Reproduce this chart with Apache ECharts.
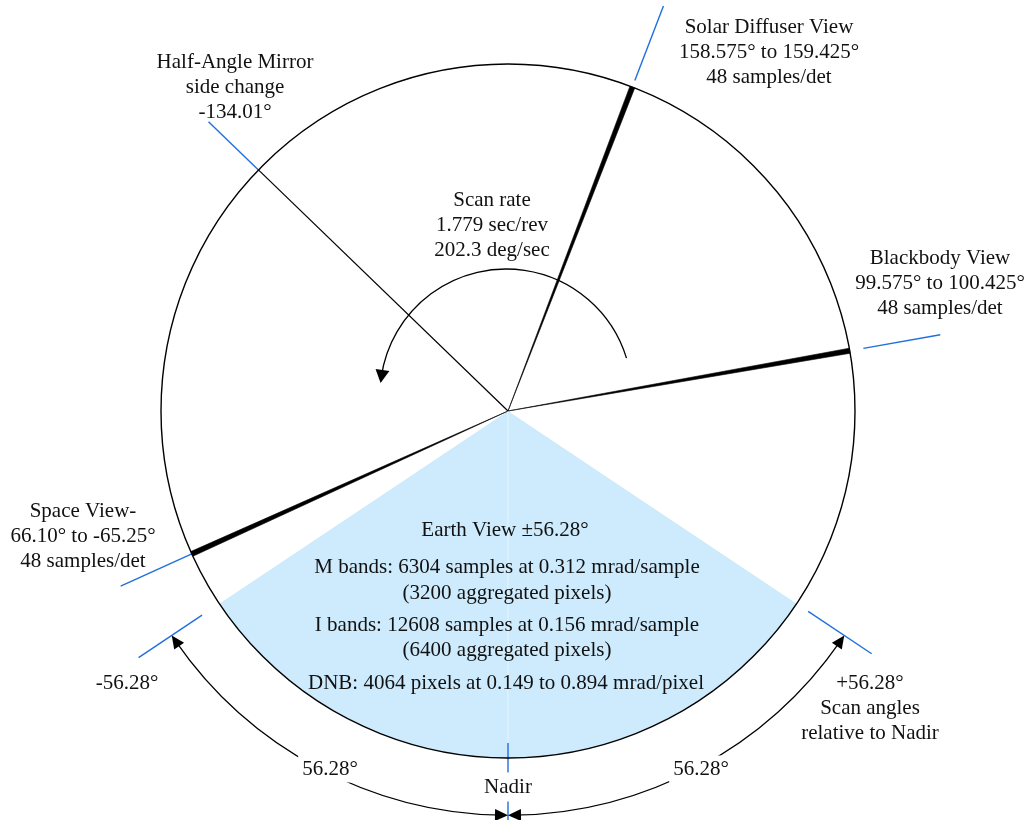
<!DOCTYPE html>
<html>
<head>
<meta charset="utf-8">
<title>Scan geometry</title>
<script src="https://cdn.jsdelivr.net/npm/echarts@6.0.0/dist/echarts.min.js"></script>
<style>
  html, body { margin: 0; padding: 0; background: #fff; }
  #chart { width: 1029px; height: 820px; }
</style>
</head>
<body>
<div id="chart"></div>
<script>
  // scan angles in degrees, measured from nadir
  const viewNames = ['Earth View', 'Space View', 'Blackbody View', 'Solar Diffuser View'];
  const viewFrom = [-56.28, -66.10, 99.575, 158.575];
  const viewTo = [56.28, -65.25, 100.425, 159.425];
  const samplesPerDet = [null, 48, 48, 48];
  const mirrorAngle = -134.01;
  const nadirAngle = 0;
  const scanLimits = [-56.28, 56.28];
  const scanPeriod = 1.779;   // sec/rev
  const scanRate = 202.3;     // deg/sec
  const scanDirection = [107, 264.5];   // arrow drawn around the centre
  const bandLines = [
    'M bands: 6304 samples at 0.312 mrad/sample',
    '(3200 aggregated pixels)',
    'I bands: 12608 samples at 0.156 mrad/sample',
    '(6400 aggregated pixels)',
    'DNB: 4064 pixels at 0.149 to 0.894 mrad/pixel'
  ];

  function mid(i) {
    return (viewFrom[i] + viewTo[i]) / 2;
  }
  // blue marker lines outside the circle
  const markerAngles = [mirrorAngle, mid(3), mid(2), mid(1), scanLimits[0], scanLimits[1], nadirAngle];

  // layout only (radius 1 = scan circle)
  const markerReach = [[1.0, 1.2], [1.02, 1.25], [1.04, 1.265], [1.0, 1.225], [1.06, 1.28], [1.04, 1.26], [0.957, 1.2]];
  const spanRadius = 1.165;
  const FONT = '21px "Liberation Serif", "Times New Roman", serif';
  const BLUE = '#1f6fe0';
  const INK = '#111';

  const chart = echarts.init(document.getElementById('chart'));

  function wrap(a) {
    return ((a + 180) % 360 + 360) % 360 - 180;
  }
  function pt(api, r, a) {
    return api.coord([r, wrap(a)]);
  }
  function screenAngle(api, a) {
    const c = api.coord([0, 0]);
    const p = pt(api, 1, a);
    return Math.atan2(p[1] - c[1], p[0] - c[0]);
  }
  function circleRadius(api) {
    const c = api.coord([0, 0]);
    const p = api.coord([1, 0]);
    return Math.hypot(p[0] - c[0], p[1] - c[1]);
  }
  // arc from value a0 to a1 (a0 < a1); larger scan angle turns anticlockwise on screen
  function arcShape(api, cx, cy, r, a0, a1) {
    let s = screenAngle(api, a1);
    let e = screenAngle(api, a0);
    if (e < s) e += Math.PI * 2;
    return {cx: cx, cy: cy, r: r, startAngle: s, endAngle: e, clockwise: true};
  }
  function arrowHead(tip, from, len, half) {
    const dx = tip[0] - from[0], dy = tip[1] - from[1];
    const d = Math.hypot(dx, dy);
    const ux = dx / d, uy = dy / d;
    const bx = tip[0] - ux * len, by = tip[1] - uy * len;
    return {
      type: 'polygon',
      shape: {points: [tip, [bx - uy * half, by + ux * half], [bx + uy * half, by - ux * half]]},
      style: {fill: '#000'}
    };
  }

  function label(text, x, y, extra) {
    const style = Object.assign({
      text: text, font: FONT, fill: INK, align: 'center', verticalAlign: 'middle', lineHeight: 25
    }, extra || {});
    return {type: 'text', x: x, y: y, z: 100, style: style};
  }
  const whiteBox = {backgroundColor: '#fff', padding: [1, 4]};

  const option = {
    backgroundColor: '#fff',
    animation: false,
    polar: {center: [508, 411], radius: 347},
    angleAxis: {
      type: 'value', min: -180, max: 180, startAngle: 90, clockwise: false, z: 10,
      axisLine: {show: true, lineStyle: {color: '#000', width: 1.4}},
      axisTick: {show: false}, axisLabel: {show: false}, splitLine: {show: false}
    },
    radiusAxis: {
      type: 'value', min: 0, max: 1,
      axisLine: {show: false}, axisTick: {show: false}, axisLabel: {show: false}, splitLine: {show: false}
    },
    series: [
      {
        // view sectors
        type: 'custom', name: 'views', coordinateSystem: 'polar', z: 2,
        data: viewNames.map(function (n, i) { return [viewFrom[i], viewTo[i]]; }),
        renderItem: function (params, api) {
          const i = params.dataIndex;
          const c = api.coord([0, 0]);
          const R = circleRadius(api);
          const sh = arcShape(api, c[0], c[1], R, viewFrom[i], viewTo[i]);
          sh.r0 = 0;
          const earth = i === 0;
          return {
            type: 'sector', shape: sh,
            style: earth ? {fill: '#cdebfc'} : {fill: '#000', stroke: '#000', lineWidth: 0.6}
          };
        }
      },
      {
        // faint nadir line inside the earth view, mirror side change line
        type: 'custom', name: 'radials', coordinateSystem: 'polar', z: 3,
        data: [[nadirAngle], [mirrorAngle]],
        renderItem: function (params, api) {
          const a = params.dataIndex === 0 ? nadirAngle : mirrorAngle;
          const p0 = pt(api, 0, a), p1 = pt(api, params.dataIndex === 0 ? 0.955 : 1, a);
          return {
            type: 'line', shape: {x1: p0[0], y1: p0[1], x2: p1[0], y2: p1[1]},
            style: params.dataIndex === 0 ? {stroke: '#e4f5ff', lineWidth: 1} : {stroke: '#000', lineWidth: 1.2}
          };
        }
      },
      {
        // blue angle markers
        type: 'custom', name: 'markers', coordinateSystem: 'polar', z: 4,
        data: markerAngles.map(function (a) { return [a]; }),
        renderItem: function (params, api) {
          const a = markerAngles[params.dataIndex];
          const reach = markerReach[params.dataIndex];
          const p0 = pt(api, reach[0], a), p1 = pt(api, reach[1], a);
          return {
            type: 'line', shape: {x1: p0[0], y1: p0[1], x2: p1[0], y2: p1[1]},
            style: {stroke: BLUE, lineWidth: 1.4}
          };
        }
      },
      {
        // scan angle spans relative to nadir
        type: 'custom', name: 'spans', coordinateSystem: 'polar', z: 5,
        data: [[scanLimits[0], nadirAngle], [nadirAngle, scanLimits[1]]],
        renderItem: function (params, api) {
          const a0 = params.dataIndex === 0 ? scanLimits[0] : nadirAngle;
          const a1 = params.dataIndex === 0 ? nadirAngle : scanLimits[1];
          const c = api.coord([0, 0]);
          const R = circleRadius(api);
          const len = 13;
          const d = len / (spanRadius * R) * 180 / Math.PI;
          return {
            type: 'group',
            children: [
              {type: 'arc', shape: arcShape(api, c[0], c[1], spanRadius * R, a0 + d * 0.5, a1 - d * 0.5),
                style: {stroke: '#000', lineWidth: 1.3, fill: null}},
              arrowHead(pt(api, spanRadius, a0), pt(api, spanRadius, a0 + d), len, 6),
              arrowHead(pt(api, spanRadius, a1), pt(api, spanRadius, a1 - d), len, 6)
            ]
          };
        }
      },
      {
        // direction of rotation
        type: 'custom', name: 'rotation', coordinateSystem: 'polar', z: 5,
        data: [scanDirection],
        renderItem: function (params, api) {
          const c = api.coord([0, 0]);
          const R = circleRadius(api);
          const off = [-2, -16];
          const rr = 126 / R;
          const a0 = scanDirection[0], a1 = scanDirection[1];
          const len = 13;
          const d = len / 126 * 180 / Math.PI;
          function q(a) {
            const p = pt(api, rr, a);
            return [p[0] + off[0], p[1] + off[1]];
          }
          return {
            type: 'group',
            children: [
              {type: 'arc', shape: arcShape(api, c[0] + off[0], c[1] + off[1], 126, a0, a1 - d * 0.5),
                style: {stroke: '#000', lineWidth: 1.3, fill: null}},
              arrowHead(q(a1), q(a1 - d), len, 7)
            ]
          };
        }
      }
    ],
    graphic: [
      label('Half-Angle Mirror\nside change\n' + mirrorAngle.toFixed(2) + '°', 235, 87),
      label(viewNames[3] + '\n' + viewFrom[3].toFixed(3) + '° to ' + viewTo[3].toFixed(3) + '°\n' +
        samplesPerDet[3] + ' samples/det', 769, 52),
      label('Scan rate\n' + scanPeriod.toFixed(3) + ' sec/rev\n' + scanRate.toFixed(1) + ' deg/sec', 492, 225),
      label(viewNames[2] + '\n' + viewFrom[2].toFixed(3) + '° to ' + viewTo[2].toFixed(3) + '°\n' +
        samplesPerDet[2] + ' samples/det', 940, 283),
      label(viewNames[1] + '-\n' + Math.abs(viewFrom[1]).toFixed(2) + '° to ' + viewTo[1].toFixed(2) + '°\n' +
        samplesPerDet[1] + ' samples/det', 83, 536),
      label(viewNames[0] + ' ±' + scanLimits[1].toFixed(2) + '°', 505, 530),
      label(bandLines[0], 507, 567),
      label(bandLines[1], 507, 593),
      label(bandLines[2], 507, 625),
      label(bandLines[3], 507, 650),
      label(bandLines[4], 506, 683),
      label(scanLimits[0].toFixed(2) + '°', 127, 683),
      label('+' + scanLimits[1].toFixed(2) + '°\nScan angles\nrelative to Nadir', 870, 708),
      label((nadirAngle - scanLimits[0]).toFixed(2) + '°', 330, 769, whiteBox),
      label((scanLimits[1] - nadirAngle).toFixed(2) + '°', 701, 769, whiteBox),
      label('Nadir', 508, 787, {backgroundColor: '#fff', padding: [2, 3]})
    ]
  };

  chart.setOption(option);
</script>
</body>
</html>
